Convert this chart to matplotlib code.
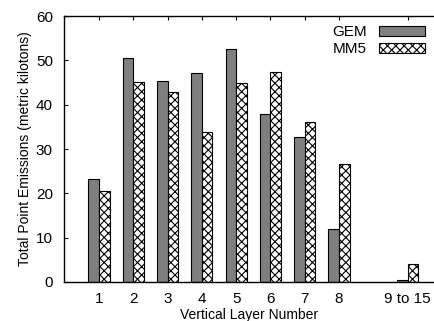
import numpy as np
import matplotlib.pyplot as plt

plt.rcParams['font.family'] = ['Liberation Sans', 'DejaVu Sans']
plt.rcParams['hatch.linewidth'] = 0.8

# data
layers = ['1', '2', '3', '4', '5', '6', '7', '8', '9 to 15']
positions = [1, 2, 3, 4, 5, 6, 7, 8, 10]
gem = [23.3, 50.5, 45.3, 47.1, 52.6, 37.8, 32.6, 12.0, 0.4]
mm5 = [20.6, 45.2, 42.8, 33.9, 44.8, 47.3, 36.0, 26.6, 4.1]

fig = plt.figure(figsize=(4.34, 3.21), dpi=100)
ax = fig.add_axes([0.1475, 0.1215, 0.8525, 0.8285])

x = np.array(positions, dtype=float)
w = 0.31
ax.bar(x - w / 2, gem, w, color='#7f7f7f', edgecolor='black', linewidth=0.8, label='GEM')
ax.bar(x + w / 2, mm5, w, color='white', edgecolor='black', linewidth=0.8,
       hatch='xxxx', label='MM5')

ax.set_xlim(-0.02, 10.77)
ax.set_ylim(0, 60)
ax.set_yticks([0, 10, 20, 30, 40, 50, 60])
ax.set_xticks(positions)
ax.set_xticklabels(layers)
ax.tick_params(axis='y', length=3, direction='in', labelsize=11, pad=8)
ax.tick_params(axis='x', length=3, direction='in', top=True, bottom=False,
               labelsize=11, pad=7)
ax.spines['right'].set_visible(False)
for s in ['left', 'top', 'bottom']:
    ax.spines[s].set_linewidth(1.0)

ax.set_xlabel('Vertical Layer Number', fontsize=10, labelpad=2)
ax.set_ylabel('Total Point Emissions (metric kilotons)', fontsize=10, labelpad=3)

ax.legend(loc='upper right', bbox_to_anchor=(1.0, 1.0), frameon=False,
          markerfirst=False, fontsize=11, handlelength=3.0, handleheight=0.6,
          labelspacing=0.2, handletextpad=0.8, borderaxespad=0.2)

fig.savefig('out.png', dpi=100)
